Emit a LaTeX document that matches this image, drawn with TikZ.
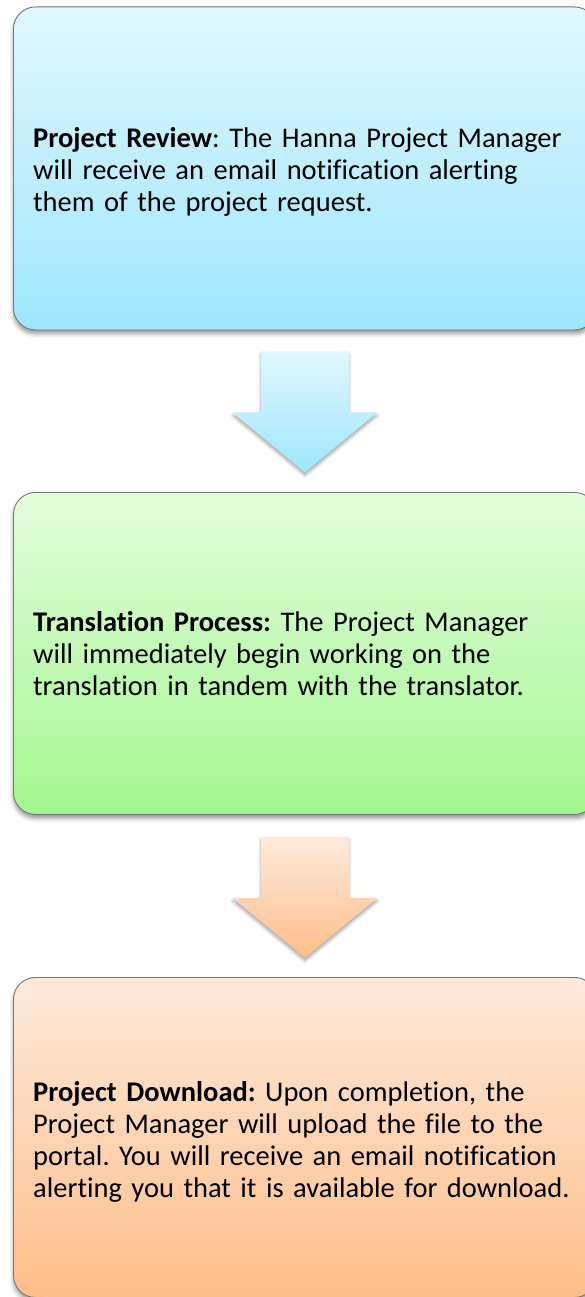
\documentclass[tikz,border=0pt]{standalone}
\usepackage{fontspec}
\setmainfont{Carlito}[Ligatures={NoCommon,NoRare,NoContextual}]
\usetikzlibrary{calc,shadows.blur}

\definecolor{blueTop}{HTML}{E1F7FE}
\definecolor{blueBot}{HTML}{9EE6FC}
\definecolor{greenTop}{HTML}{E3FCDD}
\definecolor{greenBot}{HTML}{A3F790}
\definecolor{orangeTop}{HTML}{FDEADC}
\definecolor{orangeBot}{HTML}{FDBE89}
\definecolor{edgeGray}{HTML}{6F7A72}

\tikzset{
  stagebox/.style={
    rectangle, rounded corners=22pt, draw=edgeGray, line width=0.9pt,
    minimum width=583pt, minimum height=323pt, anchor=north west,
    blur shadow={shadow xshift=0pt, shadow yshift=-4pt,
                 shadow blur radius=4pt, shadow opacity=40}
  },
  stagetext/.style={
    anchor=west, inner sep=0pt, text width=543pt, align=left,
    font=\fontsize{28.5pt}{32pt}\selectfont
  },
  flowarrow/.style={
    blur shadow={shadow xshift=0pt, shadow yshift=-3pt,
                 shadow blur radius=3pt, shadow opacity=35}
  }
}

\begin{document}
\frenchspacing
\begin{tikzpicture}[x=1pt, y=1pt]
  \useasboundingbox (0,0) rectangle (585,-1297);
  \clip (0,0) rectangle (585,-1297);

  % three process stages
  \node[stagebox, top color=blueTop, bottom color=blueBot] (review) at (13,-6.5) {};
  \node[stagetext] (reviewtext) at ($(review.west)+(20,-3)$)
    {\textbf{Project Review}: The Hanna Project Manager\\
     will receive an email notification alerting\\
     them of the project request.};

  \node[stagebox, top color=greenTop, bottom color=greenBot, minimum height=322pt] (translate) at (13,-492) {};
  \node[stagetext] (translatetext) at ($(translate.west)+(20,-0.5)$)
    {\textbf{Translation Process:} The Project Manager\\
     will immediately begin working on the\\
     translation in tandem with the translator.};

  \node[stagebox, top color=orangeTop, bottom color=orangeBot, minimum height=320pt] (download) at (13,-977) {};
  \node[stagetext] (downloadtext) at ($(download.west)+(20,-4.5)$)
    {\textbf{Project Download:} Upon completion, the\\
     Project Manager will upload the file to the\\
     portal. You will receive an email notification\\
     alerting you that it is available for download.};

  % block arrows between the stages
  \coordinate (a1) at ($(review.south)+(0,-21)$);
  \coordinate (a2) at ($(translate.south)+(0,-22)$);

  \path[flowarrow, top color=blueTop, bottom color=blueBot]
    ($(a1)+(-44,0)$) -- ($(a1)+(44,0)$) -- ($(a1)+(44,-61)$) -- ($(a1)+(72.5,-61)$)
    -- ($(a1)+(0,-121)$) -- ($(a1)+(-72.5,-61)$) -- ($(a1)+(-44,-61)$) -- cycle;

  \path[flowarrow, top color=orangeTop, bottom color=orangeBot]
    ($(a2)+(-44,0)$) -- ($(a2)+(44,0)$) -- ($(a2)+(44,-61)$) -- ($(a2)+(72.5,-61)$)
    -- ($(a2)+(0,-121)$) -- ($(a2)+(-72.5,-61)$) -- ($(a2)+(-44,-61)$) -- cycle;
\end{tikzpicture}
\end{document}
